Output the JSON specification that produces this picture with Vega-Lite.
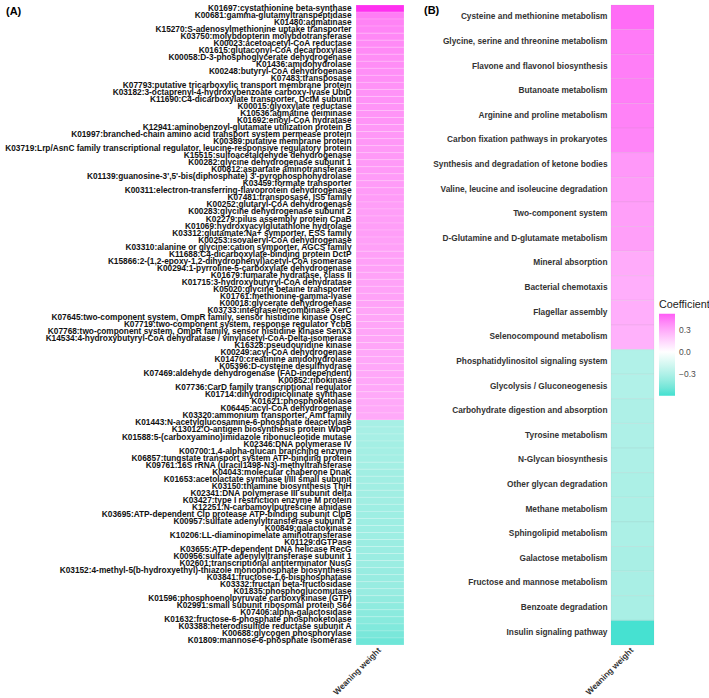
{
  "$schema": "https://vega.github.io/schema/vega-lite/v6.json",
  "padding": {"left": 0, "top": 3, "right": 0, "bottom": 0},
  "background": "white",
  "spacing": 6,
  "config": {
    "view": {"stroke": null},
    "font": "Liberation Sans",
    "axis": {"domain": false, "ticks": false, "grid": false, "title": null}
  },
  "datasets": {
    "ko": [
      {"term": "K01697:cystathionine beta-synthase", "trait": "Weaning weight", "coef": 0.80},
      {"term": "K00681:gamma-glutamyltranspeptidase", "trait": "Weaning weight", "coef": 0.58},
      {"term": "K01480:agmatinase", "trait": "Weaning weight", "coef": 0.56},
      {"term": "K15270:S-adenosylmethionine uptake transporter", "trait": "Weaning weight", "coef": 0.55},
      {"term": "K03750:molybdopterin molybdotransferase", "trait": "Weaning weight", "coef": 0.54},
      {"term": "K00023:acetoacetyl-CoA reductase", "trait": "Weaning weight", "coef": 0.53},
      {"term": "K01615:glutaconyl-CoA decarboxylase", "trait": "Weaning weight", "coef": 0.53},
      {"term": "K00058:D-3-phosphoglycerate dehydrogenase", "trait": "Weaning weight", "coef": 0.52},
      {"term": "K01436:amidohydrolase", "trait": "Weaning weight", "coef": 0.52},
      {"term": "K00248:butyryl-CoA dehydrogenase", "trait": "Weaning weight", "coef": 0.51},
      {"term": "K07483:transposase", "trait": "Weaning weight", "coef": 0.51},
      {"term": "K07793:putative tricarboxylic transport membrane protein", "trait": "Weaning weight", "coef": 0.50},
      {"term": "K03182:3-octaprenyl-4-hydroxybenzoate carboxy-lyase UbiD", "trait": "Weaning weight", "coef": 0.50},
      {"term": "K11690:C4-dicarboxylate transporter, DctM subunit", "trait": "Weaning weight", "coef": 0.50},
      {"term": "K00015:glyoxylate reductase", "trait": "Weaning weight", "coef": 0.49},
      {"term": "K10536:agmatine deiminase", "trait": "Weaning weight", "coef": 0.49},
      {"term": "K01692:enoyl-CoA hydratase", "trait": "Weaning weight", "coef": 0.49},
      {"term": "K12941:aminobenzoyl-glutamate utilization protein B", "trait": "Weaning weight", "coef": 0.48},
      {"term": "K01997:branched-chain amino acid transport system permease protein", "trait": "Weaning weight", "coef": 0.48},
      {"term": "K00389:putative membrane protein", "trait": "Weaning weight", "coef": 0.48},
      {"term": "K03719:Lrp/AsnC family transcriptional regulator, leucine-responsive regulatory protein", "trait": "Weaning weight", "coef": 0.47},
      {"term": "K15515:sulfoacetaldehyde dehydrogenase", "trait": "Weaning weight", "coef": 0.47},
      {"term": "K00282:glycine dehydrogenase subunit 1", "trait": "Weaning weight", "coef": 0.47},
      {"term": "K00812:aspartate aminotransferase", "trait": "Weaning weight", "coef": 0.47},
      {"term": "K01139:guanosine-3',5'-bis(diphosphate) 3'-pyrophosphohydrolase", "trait": "Weaning weight", "coef": 0.46},
      {"term": "K03459:formate transporter", "trait": "Weaning weight", "coef": 0.46},
      {"term": "K00311:electron-transferring-flavoprotein dehydrogenase", "trait": "Weaning weight", "coef": 0.46},
      {"term": "K07481:transposase, IS5 family", "trait": "Weaning weight", "coef": 0.46},
      {"term": "K00252:glutaryl-CoA dehydrogenase", "trait": "Weaning weight", "coef": 0.45},
      {"term": "K00283:glycine dehydrogenase subunit 2", "trait": "Weaning weight", "coef": 0.45},
      {"term": "K02279:pilus assembly protein CpaB", "trait": "Weaning weight", "coef": 0.45},
      {"term": "K01069:hydroxyacylglutathione hydrolase", "trait": "Weaning weight", "coef": 0.45},
      {"term": "K03312:glutamate:Na+ symporter, ESS family", "trait": "Weaning weight", "coef": 0.45},
      {"term": "K00253:isovaleryl-CoA dehydrogenase", "trait": "Weaning weight", "coef": 0.44},
      {"term": "K03310:alanine or glycine:cation symporter, AGCS family", "trait": "Weaning weight", "coef": 0.44},
      {"term": "K11688:C4-dicarboxylate-binding protein DctP", "trait": "Weaning weight", "coef": 0.44},
      {"term": "K15866:2-(1,2-epoxy-1,2-dihydrophenyl)acetyl-CoA isomerase", "trait": "Weaning weight", "coef": 0.44},
      {"term": "K00294:1-pyrroline-5-carboxylate dehydrogenase", "trait": "Weaning weight", "coef": 0.44},
      {"term": "K01679:fumarate hydratase, class II", "trait": "Weaning weight", "coef": 0.43},
      {"term": "K01715:3-hydroxybutyryl-CoA dehydratase", "trait": "Weaning weight", "coef": 0.43},
      {"term": "K05020:glycine betaine transporter", "trait": "Weaning weight", "coef": 0.43},
      {"term": "K01761:methionine-gamma-lyase", "trait": "Weaning weight", "coef": 0.43},
      {"term": "K00018:glycerate dehydrogenase", "trait": "Weaning weight", "coef": 0.43},
      {"term": "K03733:integrase/recombinase XerC", "trait": "Weaning weight", "coef": 0.42},
      {"term": "K07645:two-component system, OmpR family, sensor histidine kinase QseC", "trait": "Weaning weight", "coef": 0.42},
      {"term": "K07719:two-component system, response regulator YcbB", "trait": "Weaning weight", "coef": 0.42},
      {"term": "K07768:two-component system, OmpR family, sensor histidine kinase SenX3", "trait": "Weaning weight", "coef": 0.42},
      {"term": "K14534:4-hydroxybutyryl-CoA dehydratase / vinylacetyl-CoA-Delta-isomerase", "trait": "Weaning weight", "coef": 0.42},
      {"term": "K16328:pseudouridine kinase", "trait": "Weaning weight", "coef": 0.42},
      {"term": "K00249:acyl-CoA dehydrogenase", "trait": "Weaning weight", "coef": 0.41},
      {"term": "K01470:creatinine amidohydrolase", "trait": "Weaning weight", "coef": 0.41},
      {"term": "K05396:D-cysteine desulfhydrase", "trait": "Weaning weight", "coef": 0.41},
      {"term": "K07469:aldehyde dehydrogenase (FAD-independent)", "trait": "Weaning weight", "coef": 0.41},
      {"term": "K00852:ribokinase", "trait": "Weaning weight", "coef": 0.41},
      {"term": "K07736:CarD family transcriptional regulator", "trait": "Weaning weight", "coef": 0.41},
      {"term": "K01714:dihydrodipicolinate synthase", "trait": "Weaning weight", "coef": 0.40},
      {"term": "K01621:phosphoketolase", "trait": "Weaning weight", "coef": 0.40},
      {"term": "K06445:acyl-CoA dehydrogenase", "trait": "Weaning weight", "coef": 0.40},
      {"term": "K03320:ammonium transporter, Amt family", "trait": "Weaning weight", "coef": 0.40},
      {"term": "K01443:N-acetylglucosamine-6-phosphate deacetylase", "trait": "Weaning weight", "coef": -0.33},
      {"term": "K13012:O-antigen biosynthesis protein WbqP", "trait": "Weaning weight", "coef": -0.33},
      {"term": "K01588:5-(carboxyamino)imidazole ribonucleotide mutase", "trait": "Weaning weight", "coef": -0.33},
      {"term": "K02346:DNA polymerase IV", "trait": "Weaning weight", "coef": -0.34},
      {"term": "K00700:1,4-alpha-glucan branching enzyme", "trait": "Weaning weight", "coef": -0.34},
      {"term": "K06857:tungstate transport system ATP-binding protein", "trait": "Weaning weight", "coef": -0.34},
      {"term": "K09761:16S rRNA (uracil1498-N3)-methyltransferase", "trait": "Weaning weight", "coef": -0.34},
      {"term": "K04043:molecular chaperone DnaK", "trait": "Weaning weight", "coef": -0.35},
      {"term": "K01653:acetolactate synthase I/III small subunit", "trait": "Weaning weight", "coef": -0.35},
      {"term": "K03150:thiamine biosynthesis ThiH", "trait": "Weaning weight", "coef": -0.35},
      {"term": "K02341:DNA polymerase III subunit delta", "trait": "Weaning weight", "coef": -0.35},
      {"term": "K03427:type I restriction enzyme M protein", "trait": "Weaning weight", "coef": -0.35},
      {"term": "K12251:N-carbamoylputrescine amidase", "trait": "Weaning weight", "coef": -0.36},
      {"term": "K03695:ATP-dependent Clp protease ATP-binding subunit ClpB", "trait": "Weaning weight", "coef": -0.36},
      {"term": "K00957:sulfate adenylyltransferase subunit 2", "trait": "Weaning weight", "coef": -0.36},
      {"term": "K00849:galactokinase", "trait": "Weaning weight", "coef": -0.36},
      {"term": "K10206:LL-diaminopimelate aminotransferase", "trait": "Weaning weight", "coef": -0.36},
      {"term": "K01129:dGTPase", "trait": "Weaning weight", "coef": -0.37},
      {"term": "K03655:ATP-dependent DNA helicase RecG", "trait": "Weaning weight", "coef": -0.37},
      {"term": "K00956:sulfate adenylyltransferase subunit 1", "trait": "Weaning weight", "coef": -0.37},
      {"term": "K02601:transcriptional antiterminator NusG", "trait": "Weaning weight", "coef": -0.37},
      {"term": "K03152:4-methyl-5(b-hydroxyethyl)-thiazole monophosphate biosynthesis", "trait": "Weaning weight", "coef": -0.38},
      {"term": "K03841:fructose-1,6-bisphosphatase", "trait": "Weaning weight", "coef": -0.38},
      {"term": "K03332:fructan beta-fructosidase", "trait": "Weaning weight", "coef": -0.38},
      {"term": "K01835:phosphoglucomutase", "trait": "Weaning weight", "coef": -0.38},
      {"term": "K01596:phosphoenolpyruvate carboxykinase (GTP)", "trait": "Weaning weight", "coef": -0.40},
      {"term": "K02991:small subunit ribosomal protein S6e", "trait": "Weaning weight", "coef": -0.41},
      {"term": "K07406:alpha-galactosidase", "trait": "Weaning weight", "coef": -0.42},
      {"term": "K01632:fructose-6-phosphate phosphoketolase", "trait": "Weaning weight", "coef": -0.43},
      {"term": "K03388:heterodisulfide reductase subunit A", "trait": "Weaning weight", "coef": -0.45},
      {"term": "K00688:glycogen phosphorylase", "trait": "Weaning weight", "coef": -0.47},
      {"term": "K01809:mannose-6-phosphate isomerase", "trait": "Weaning weight", "coef": -0.50}
    ],
    "path": [
      {"term": "Cysteine and methionine metabolism", "trait": "Weaning weight", "coef": 0.49},
      {"term": "Glycine, serine and threonine metabolism", "trait": "Weaning weight", "coef": 0.45},
      {"term": "Flavone and flavonol biosynthesis", "trait": "Weaning weight", "coef": 0.44},
      {"term": "Butanoate metabolism", "trait": "Weaning weight", "coef": 0.44},
      {"term": "Arginine and proline metabolism", "trait": "Weaning weight", "coef": 0.43},
      {"term": "Carbon fixation pathways in prokaryotes", "trait": "Weaning weight", "coef": 0.42},
      {"term": "Synthesis and degradation of ketone bodies", "trait": "Weaning weight", "coef": 0.36},
      {"term": "Valine, leucine and isoleucine degradation", "trait": "Weaning weight", "coef": 0.35},
      {"term": "Two-component system", "trait": "Weaning weight", "coef": 0.34},
      {"term": "D-Glutamine and D-glutamate metabolism", "trait": "Weaning weight", "coef": 0.34},
      {"term": "Mineral absorption", "trait": "Weaning weight", "coef": 0.30},
      {"term": "Bacterial chemotaxis", "trait": "Weaning weight", "coef": 0.29},
      {"term": "Flagellar assembly", "trait": "Weaning weight", "coef": 0.29},
      {"term": "Selenocompound metabolism", "trait": "Weaning weight", "coef": 0.28},
      {"term": "Phosphatidylinositol signaling system", "trait": "Weaning weight", "coef": -0.30},
      {"term": "Glycolysis / Gluconeogenesis", "trait": "Weaning weight", "coef": -0.30},
      {"term": "Carbohydrate digestion and absorption", "trait": "Weaning weight", "coef": -0.31},
      {"term": "Tyrosine metabolism", "trait": "Weaning weight", "coef": -0.31},
      {"term": "N-Glycan biosynthesis", "trait": "Weaning weight", "coef": -0.31},
      {"term": "Other glycan degradation", "trait": "Weaning weight", "coef": -0.32},
      {"term": "Methane metabolism", "trait": "Weaning weight", "coef": -0.32},
      {"term": "Sphingolipid metabolism", "trait": "Weaning weight", "coef": -0.32},
      {"term": "Galactose metabolism", "trait": "Weaning weight", "coef": -0.33},
      {"term": "Fructose and mannose metabolism", "trait": "Weaning weight", "coef": -0.33},
      {"term": "Benzoate degradation", "trait": "Weaning weight", "coef": -0.33},
      {"term": "Insulin signaling pathway", "trait": "Weaning weight", "coef": -0.60}
    ]
  },
  "resolve": {"scale": {"color": "independent", "y": "independent", "x": "independent"}, "legend": {"color": "independent"}},
  "hconcat": [
    {
      "data": {"name": "ko"},
      "width": 48,
      "height": 640,
      "title": {"text": "(A)", "anchor": "start", "frame": "bounds", "offset": -14, "dx": 6, "fontSize": 11, "fontWeight": "bold", "color": "#000000", "font": "Liberation Sans"},
      "mark": {"type": "rect", "stroke": "#ffffff", "strokeWidth": 0.4, "strokeOpacity": 0.4},
      "encoding": {
        "y": {"field": "term", "type": "nominal", "sort": null,
          "scale": {"paddingInner": 0, "paddingOuter": 0},
          "axis": {"labelFontSize": 8.3, "labelFontWeight": "bold", "labelColor": "#111111", "labelPadding": 5, "labelLimit": 400, "minExtent": 356, "maxExtent": 356, "labelFont": "Liberation Sans"}},
        "x": {"field": "trait", "type": "nominal",
          "axis": {"labelAngle": -45, "labelAlign": "right", "labelBaseline": "middle", "labelFontSize": 8.3, "labelFontWeight": "bold", "labelColor": "#333333", "labelPadding": 4, "labelFont": "Liberation Sans"}},
        "color": {"field": "coef", "type": "quantitative",
          "scale": {"domain": [-0.6, 0, 0.8], "range": ["#40E0D0", "#FFFFFF", "#FF30F0"], "interpolate": "lab"},
          "legend": null}
      }
    },
    {
      "data": {"name": "path"},
      "width": 43,
      "height": 640,
      "title": {"text": "(B)", "anchor": "start", "frame": "bounds", "offset": -11, "dx": 13, "fontSize": 11, "fontWeight": "bold", "color": "#000000", "font": "Liberation Sans"},
      "mark": {"type": "rect", "stroke": "#999999", "strokeWidth": 0.5, "strokeOpacity": 0.2},
      "encoding": {
        "y": {"field": "term", "type": "nominal", "sort": null,
          "scale": {"paddingInner": 0, "paddingOuter": 0},
          "axis": {"labelFontSize": 8.3, "labelFontWeight": "bold", "labelColor": "#333333", "labelPadding": 4, "labelLimit": 300, "minExtent": 200, "maxExtent": 200, "labelFont": "Liberation Sans"}},
        "x": {"field": "trait", "type": "nominal",
          "axis": {"labelAngle": -45, "labelAlign": "right", "labelBaseline": "middle", "labelFontSize": 8.3, "labelFontWeight": "bold", "labelColor": "#333333", "labelPadding": 4, "labelFont": "Liberation Sans"}},
        "color": {"field": "coef", "type": "quantitative",
          "scale": {"domain": [-0.61, 0, 0.53], "range": ["#40E0D0", "#FFFFFF", "#FF5CF5"], "interpolate": "lab"},
          "legend": {"title": "Coefficient", "orient": "none", "legendX": 48, "legendY": 294,
            "values": [-0.3, 0, 0.3], "format": ".1f",
            "gradientLength": 82, "gradientThickness": 16, "gradientStrokeWidth": 0,
            "titleFontSize": 10.8, "titleFontWeight": "normal", "titleColor": "#222222", "titlePadding": 4, "titleFont": "Liberation Sans",
            "labelFontSize": 8.5, "labelColor": "#4d4d4d", "labelOffset": 4, "labelFont": "Liberation Sans"}}
      }
    }
  ]
}
